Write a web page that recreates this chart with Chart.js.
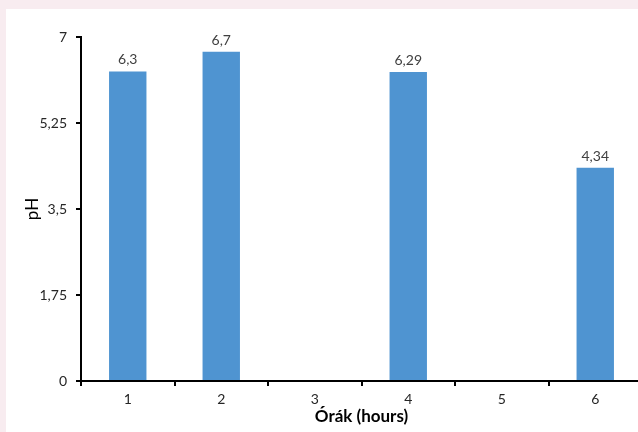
<!DOCTYPE html>
<html>
<head>
<meta charset="utf-8">
<script src="https://cdn.jsdelivr.net/npm/chart.js@4/dist/chart.umd.min.js"></script>
<style>
  html, body { margin: 0; padding: 0; width: 638px; height: 432px; overflow: hidden; background: #f8ecf0; }
  #panel { position: absolute; left: 6px; top: 9px; right: 0; bottom: 0; background: #ffffff; overflow: hidden; }
  #chart { position: absolute; left: 0; top: 0; }
</style>
</head>
<body>
<div id="panel"><canvas id="chart" width="650" height="423"></canvas></div>
<script>
// Sampling hours and measured pH (empty hours have no measurement)
const hours = ["1", "2", "3", "4", "5", "6"];
const phValues = [6.3, 6.7, null, 6.29, null, 4.34];
const yTickLabels = ["0", "1,75", "3,5", "5,25", "7"];

const FONT = "Lato, 'Open Sans', 'Liberation Sans', sans-serif";
const fmt = v => String(v).replace(".", ",");

// Value labels above each bar
const valueLabels = {
  id: "valueLabels",
  afterDatasetsDraw(chart) {
    const ctx = chart.ctx;
    const meta = chart.getDatasetMeta(0);
    ctx.save();
    ctx.font = "14px " + FONT;
    ctx.fillStyle = "#404040";
    ctx.textAlign = "center";
    ctx.textBaseline = "alphabetic";
    meta.data.forEach((bar, i) => {
      const v = phValues[i];
      if (v === null || v === undefined) return;
      ctx.fillText(fmt(v), bar.x, bar.y - 7);
    });
    ctx.restore();
  }
};

new Chart(document.getElementById("chart"), {
  type: "bar",
  data: {
    labels: hours,
    datasets: [{
      data: phValues,
      backgroundColor: "#4f94d1",
      borderWidth: 0,
      categoryPercentage: 1,
      barPercentage: 0.4
    }]
  },
  options: {
    responsive: false,
    devicePixelRatio: 1,
    animation: false,
    layout: { padding: { top: 28, right: 14, bottom: 0, left: 0 } },
    plugins: { legend: { display: false }, tooltip: { enabled: false } },
    scales: {
      x: {
        afterFit(scale) { scale.height = 51; },
        grid: {
          offset: true,
          drawOnChartArea: false,
          color: "#000000",
          lineWidth: 2,
          tickLength: 5
        },
        border: { color: "#000000", width: 2 },
        ticks: { color: "#262626", font: { family: FONT, size: 14 }, padding: 5 },
        title: {
          display: true,
          text: "Órák (hours)",
          color: "#000000",
          font: { family: FONT, size: 17, weight: "bold" },
          padding: { top: 0, bottom: 5 }
        }
      },
      y: {
        min: 0,
        max: 7,
        afterFit(scale) { scale.width = 75; },
        afterBuildTicks(scale) {
          scale.ticks = yTickLabels.map(t => ({ value: parseFloat(t.replace(",", ".")) }));
        },
        grid: {
          drawOnChartArea: false,
          color: "#000000",
          lineWidth: 2,
          tickLength: 5
        },
        border: { color: "#000000", width: 2 },
        ticks: {
          color: "#262626",
          font: { family: FONT, size: 14 },
          padding: 9,
          callback: (value, index) => yTickLabels[index]
        },
        title: {
          display: true,
          text: "pH",
          color: "#000000",
          font: { family: FONT, size: 17 },
          padding: { top: 16, bottom: 0 }
        }
      }
    }
  },
  plugins: [valueLabels]
});
</script>
</body>
</html>
